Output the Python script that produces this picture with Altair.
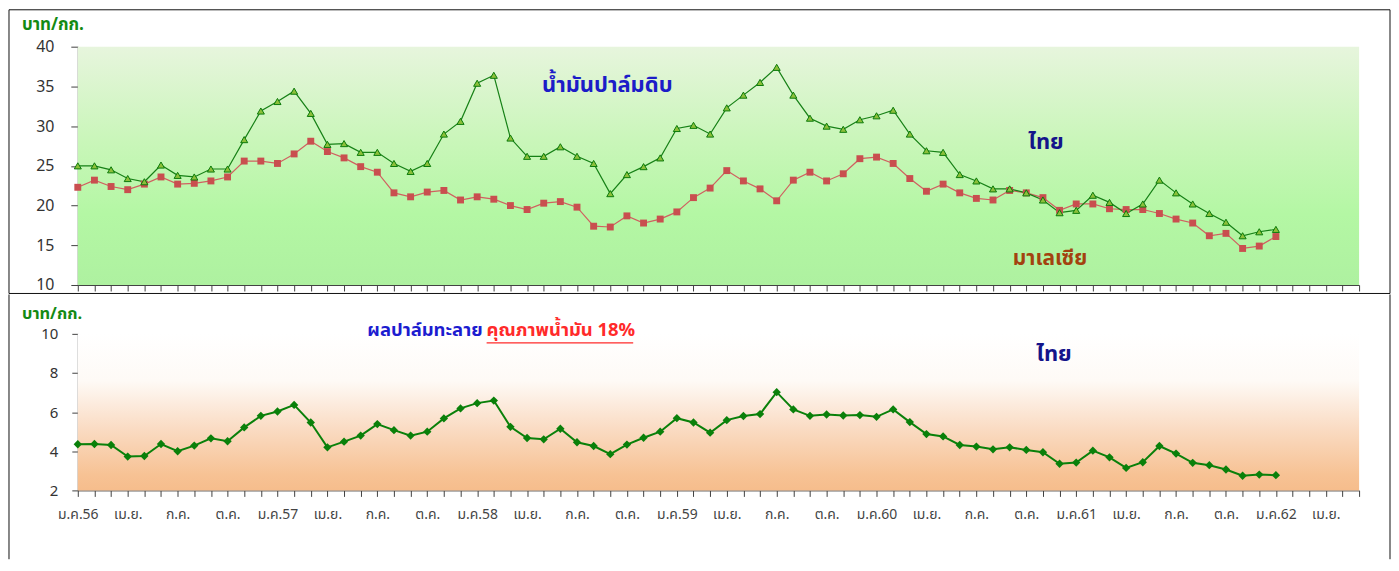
import json
import altair as alt
import pandas as pd

# ---------------- data ----------------
thai_cpo = [25.0, 25.0, 24.5, 23.4, 23.0, 25.1, 23.8, 23.6, 24.6, 24.6,
            28.3, 31.9, 33.1, 34.4, 31.6, 27.7, 27.8, 26.7, 26.7, 25.3,
            24.3, 25.3, 29.0, 30.6, 35.4, 36.4, 28.5, 26.2, 26.2, 27.4,
            26.2, 25.3, 21.5, 23.9, 24.9, 26.0, 29.7, 30.1, 29.0, 32.3,
            33.9, 35.5, 37.4, 33.9, 31.0, 30.0, 29.6, 30.8, 31.3, 32.0,
            29.0, 26.9, 26.7, 23.9, 23.1, 22.1, 22.1, 21.6, 20.7, 19.1,
            19.4, 21.3, 20.4, 19.0, 20.2, 23.2, 21.6, 20.2, 19.0, 17.9,
            16.2, 16.7, 17.0]
malay_cpo = [22.3, 23.2, 22.4, 22.0, 22.7, 23.6, 22.7, 22.8, 23.1, 23.6,
             25.6, 25.6, 25.3, 26.5, 28.1, 26.8, 26.0, 24.9, 24.2, 21.6,
             21.1, 21.7, 21.9, 20.7, 21.1, 20.8, 20.0, 19.5, 20.3, 20.5,
             19.8, 17.4, 17.3, 18.7, 17.8, 18.3, 19.2, 21.0, 22.2, 24.4,
             23.1, 22.1, 20.6, 23.2, 24.2, 23.1, 24.0, 25.9, 26.1, 25.3,
             23.4, 21.8, 22.7, 21.6, 20.9, 20.7, 21.9, 21.6, 21.0, 19.4,
             20.2, 20.2, 19.6, 19.5, 19.5, 19.0, 18.3, 17.8, 16.2, 16.5,
             14.6, 14.9, 16.1]
thai_ffb = [4.36, 4.37, 4.32, 3.73, 3.76, 4.37, 4.00, 4.29, 4.66, 4.51,
            5.22, 5.81, 6.03, 6.37, 5.47, 4.20, 4.49, 4.80, 5.39, 5.08,
            4.80, 5.00, 5.68, 6.19, 6.46, 6.59, 5.25, 4.68, 4.61, 5.15,
            4.46, 4.27, 3.85, 4.34, 4.69, 5.00, 5.69, 5.47, 4.95, 5.59,
            5.80, 5.90, 7.02, 6.14, 5.81, 5.88, 5.83, 5.85, 5.76, 6.14,
            5.49, 4.88, 4.76, 4.32, 4.24, 4.10, 4.20, 4.07, 3.95, 3.36,
            3.42, 4.03, 3.69, 3.15, 3.44, 4.27, 3.88, 3.41, 3.29, 3.07,
            2.75, 2.81, 2.78]
month_index = list(range(len(thai_cpo)))
axis_months = list(range(78))
tick_labels = ["ม.ค.56", "เม.ย.", "ก.ค.", "ต.ค.",
               "ม.ค.57", "เม.ย.", "ก.ค.", "ต.ค.",
               "ม.ค.58", "เม.ย.", "ก.ค.", "ต.ค.",
               "ม.ค.59", "เม.ย.", "ก.ค.", "ต.ค.",
               "ม.ค.60", "เม.ย.", "ก.ค.", "ต.ค.",
               "ม.ค.61", "เม.ย.", "ก.ค.", "ต.ค.",
               "ม.ค.62", "เม.ย."]
top_y_ticks = [10, 15, 20, 25, 30, 35, 40]
bottom_y_ticks = [2, 4, 6, 8, 10]

df = pd.DataFrame({"i": month_index, "thai": thai_cpo,
                   "malay": malay_cpo, "ffb": thai_ffb})
one = pd.DataFrame({"k": [0]})

FONT = "Tahoma, 'Noto Sans Thai', Loma, Garuda, 'Noto Sans', 'DejaVu Sans', sans-serif"
W, H1, H2 = 1285, 239, 157

xscale = alt.Scale(domain=[0, 77], nice=False, zero=False)
label_expr = ("datum.value % 3 == 0 ? " + json.dumps(tick_labels, ensure_ascii=False)
              + "[datum.value / 3] : ''")

# ---------------- top panel ----------------
top_x_axis = alt.Axis(values=axis_months, labels=False, tickSize=6, title=None,
                      grid=False, domainColor="#404040", tickColor="#404040")
top_y_axis = alt.Axis(values=top_y_ticks, tickSize=7, labelPadding=17,
                      labelFontSize=16, labelColor="#333333", labelFont=FONT,
                      title=None, grid=False, domainColor="#404040",
                      tickColor="#404040")
top_y_scale = alt.Scale(domain=[10, 40], nice=False, zero=False)

top_bg = alt.Chart(one).mark_rect(
    fill=alt.Gradient(gradient="linear", x1=0, x2=0, y1=0, y2=1,
                      stops=[alt.GradientStop(color="#e7f5dd", offset=0),
                             alt.GradientStop(color="#c9f6b9", offset=0.4),
                             alt.GradientStop(color="#b4f7a4", offset=0.7),
                             alt.GradientStop(color="#aef1a0", offset=1)])
).encode(x=alt.value(0), x2=alt.value(W), y=alt.value(0), y2=alt.value(H1))

top_frame = alt.Chart(one).mark_rect(fillOpacity=0, stroke="#111111", strokeWidth=1).encode(
    x=alt.value(-69), x2=alt.value(1316), y=alt.value(-37), y2=alt.value(247.5))

base_top = alt.Chart(df).encode(x=alt.X("i:Q", scale=xscale, axis=top_x_axis))
thai_line = base_top.mark_line(color="#168016", strokeWidth=1.2).encode(
    y=alt.Y("thai:Q", scale=top_y_scale, axis=top_y_axis))
thai_pts = base_top.mark_point(shape="triangle-up", filled=True, fill="#8cbf3a",
                               stroke="#0b7a0b", strokeWidth=1, size=50, opacity=1).encode(
    y=alt.Y("thai:Q", scale=top_y_scale, axis=top_y_axis))
malay_line = base_top.mark_line(color="#d06060", strokeWidth=1.2).encode(
    y=alt.Y("malay:Q", scale=top_y_scale, axis=top_y_axis))
malay_pts = base_top.mark_square(color="#c94f4f", size=48, opacity=1).encode(
    y=alt.Y("malay:Q", scale=top_y_scale, axis=top_y_axis))


def label(text, x, y, color, size, align="left", weight="bold"):
    return alt.Chart(one).mark_text(text=text, align=align, baseline="alphabetic",
                                    fontSize=size, fontWeight=weight, color=color,
                                    font=FONT).encode(x=alt.value(x), y=alt.value(y))


top_unit = label("บาท/กก.", -56, -17, "#138a13", 17)
top_title = label("น้ำมันปาล์มดิบ", 531, 45, "#1c1cc8", 22, align="center")
top_thai = label("ไทย", 971, 103, "#14148a", 22, align="center")
top_malay = label("มาเลเซีย", 975, 219, "#a3420f", 21, align="center")

top = alt.layer(top_bg, top_frame, malay_line, thai_line, malay_pts, thai_pts,
                top_unit, top_title, top_thai, top_malay).properties(width=W, height=H1)

# ---------------- bottom panel ----------------
bot_x_axis = alt.Axis(values=axis_months, labelExpr=label_expr, tickSize=6,
                      labelPadding=11, labelFontSize=14, labelColor="#444444",
                      labelFont=FONT, labelOverlap=False, labelFlush=False,
                      title=None, grid=False, domainColor="#404040",
                      tickColor="#404040")
bot_y_axis = alt.Axis(values=bottom_y_ticks, tickSize=6, labelPadding=14,
                      labelFontSize=15, labelColor="#333333", labelFont=FONT,
                      title=None, grid=False, domainColor="#404040",
                      tickColor="#404040")
bot_y_scale = alt.Scale(domain=[2, 10], nice=False, zero=False)

bot_bg = alt.Chart(one).mark_rect(
    fill=alt.Gradient(gradient="linear", x1=0, x2=0, y1=0, y2=1,
                      stops=[alt.GradientStop(color="#ffffff", offset=0),
                             alt.GradientStop(color="#fefaf6", offset=0.3),
                             alt.GradientStop(color="#fadcc4", offset=0.6),
                             alt.GradientStop(color="#f7c294", offset=0.9),
                             alt.GradientStop(color="#f6bd8c", offset=1)])
).encode(x=alt.value(0), x2=alt.value(W), y=alt.value(0), y2=alt.value(H2))

bot_left = alt.Chart(one).mark_rule(color="#111111", strokeWidth=1).encode(
    x=alt.value(-69), y=alt.value(-39.5), y2=alt.value(226))
bot_right = alt.Chart(one).mark_rule(color="#111111", strokeWidth=1).encode(
    x=alt.value(1316), y=alt.value(-39.5), y2=alt.value(226))

base_bot = alt.Chart(df).encode(x=alt.X("i:Q", scale=xscale, axis=bot_x_axis))
ffb_line = base_bot.mark_line(color="#0a800a", strokeWidth=2).encode(
    y=alt.Y("ffb:Q", scale=bot_y_scale, axis=bot_y_axis))
ffb_pts = base_bot.mark_point(shape="diamond", filled=True, color="#0a800a",
                              size=70, opacity=1).encode(
    y=alt.Y("ffb:Q", scale=bot_y_scale, axis=bot_y_axis))

bot_unit = label("บาท/กก.", -56, -15, "#138a13", 16.5)
bot_title_a = label("ผลปาล์มทะลาย", 406, 2, "#1c1cd0", 18.5, align="right")
bot_title_b = label("คุณภาพน้ำมัน 18%", 410, 2, "#ff2a2a", 18.5, align="left")
bot_underline = alt.Chart(one).mark_rule(color="#ff2a2a", strokeWidth=1.2).encode(
    x=alt.value(410), x2=alt.value(557), y=alt.value(9))
bot_thai = label("ไทย", 979, 27, "#14148a", 22, align="center")

bottom = alt.layer(bot_bg, bot_left, bot_right, ffb_line, ffb_pts, bot_unit,
                   bot_title_a, bot_title_b, bot_underline, bot_thai).properties(width=W, height=H2)

chart = alt.vconcat(top, bottom, spacing=0).properties(
    padding=0, background="white"
).configure_view(stroke=None)

chart.save("out.html", embed_options={"renderer": "svg", "actions": False})
